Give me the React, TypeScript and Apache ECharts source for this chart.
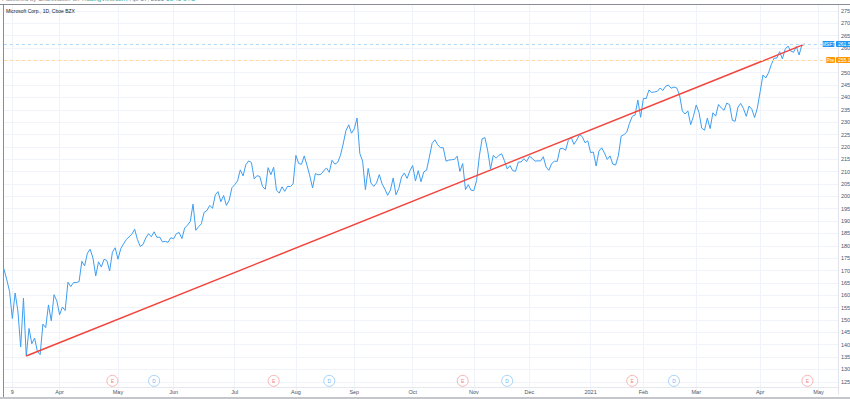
import React, { useEffect, useRef } from 'react';
import * as echarts from 'echarts';

// ---- Daily closes (Mar 4 2020 – Apr 26 2021) ----
const close2020Mar = [170.55, 166.27, 161.57, 150.62, 160.92, 153.63, 139.06, 158.83, 135.42, 146.57, 140.4, 142.71, 137.35, 135.98, 148.34, 146.92, 156.11, 149.7, 160.23, 157.71];
const close2020Apr = [152.11, 155.26, 153.83, 165.27, 163.49, 165.13, 165.14, 165.51, 173.7, 171.88, 177.04, 178.6, 175.06, 167.82, 173.52, 171.42, 174.55, 174.05, 169.81, 177.43, 179.21];
const close2020May = [174.57, 178.84, 180.76, 182.54, 183.6, 184.68, 186.74, 182.51, 179.75, 180.53, 183.16, 184.91, 183.63, 185.66, 183.43, 183.51, 181.57, 181.81, 181.4, 183.25];
const close2020Jun = [182.83, 184.91, 185.36, 182.92, 187.2, 188.36, 189.8, 196.84, 186.27, 187.74, 188.94, 193.57, 194.24, 196.32, 195.15, 200.57, 201.91, 197.84, 200.34, 196.33, 198.44, 203.51];
const close2020Jul = [204.7, 206.26, 210.7, 208.25, 212.83, 214.32, 213.67, 207.07, 208.35, 208.04, 203.92, 202.88, 211.6, 208.75, 211.75, 202.54, 201.3, 203.85, 202.02, 204.06, 203.9, 205.01];
const close2020Aug = [216.54, 213.29, 212.94, 216.35, 212.48, 208.25, 203.38, 209.19, 208.7, 208.9, 210.28, 211.49, 209.7, 214.58, 213.02, 213.69, 216.47, 221.15, 226.58, 228.91, 225.53];
const close2020Sep = [227.27, 231.65, 217.3, 214.25, 202.66, 211.29, 205.37, 204.03, 205.41, 208.78, 205.05, 202.91, 200.39, 202.54, 207.42, 200.59, 203.19, 207.82, 209.44, 207.26, 210.33];
const close2020Oct = [212.46, 206.19, 210.38, 205.91, 209.83, 210.58, 215.81, 221.4, 222.86, 220.86, 219.66, 219.66, 214.22, 214.65, 214.8, 214.89, 216.23, 210.08, 213.25, 202.68, 204.72, 202.47];
const close2020Nov = [202.33, 206.43, 216.39, 223.29, 223.72, 218.39, 211.01, 216.55, 215.44, 216.51, 217.23, 214.46, 211.08, 212.42, 210.39, 210.11, 213.86, 213.87, 215.23, 214.07];
const close2020Dec = [216.21, 215.37, 214.24, 214.36, 214.29, 216.01, 211.8, 210.52, 213.26, 214.2, 214.13, 219.28, 219.42, 218.59, 222.59, 223.94, 221.02, 222.75, 224.96, 224.15, 221.68, 222.42];
const close2021Jan = [217.69, 217.9, 212.25, 218.29, 219.62, 217.49, 214.93, 216.34, 213.02, 212.65, 216.44, 224.34, 224.97, 225.95, 229.53, 232.33, 232.9, 238.93, 231.96];
const close2021Feb = [239.65, 239.51, 243.0, 242.01, 242.2, 242.47, 243.77, 242.82, 244.49, 244.99, 243.7, 244.2, 243.79, 240.97, 234.51, 233.27, 234.55, 228.99, 232.38];
const close2021Mar = [236.94, 233.87, 227.56, 226.73, 231.6, 227.39, 233.78, 232.42, 237.13, 235.75, 234.81, 237.71, 237.04, 230.72, 230.35, 235.99, 237.58, 235.46, 232.34, 236.48, 235.24, 231.85, 235.77];
const close2021Apr = [242.35, 249.07, 247.86, 249.9, 253.25, 255.85, 255.91, 258.49, 255.59, 259.5, 260.74, 258.74, 258.26, 260.58, 257.17, 261.15, 261.55];

const closes = [
  ...close2020Mar, ...close2020Apr, ...close2020May, ...close2020Jun, ...close2020Jul, ...close2020Aug,
  ...close2020Sep, ...close2020Oct, ...close2020Nov, ...close2020Dec, ...close2021Jan, ...close2021Feb,
  ...close2021Mar, ...close2021Apr,
];

// ---- Calendar ----
const firstDate = '2020-03-04';
const futureBars = 12;
const marketHolidays = ['2020-04-10', '2020-05-25', '2020-07-03', '2020-09-07', '2020-11-26', '2020-12-25', '2021-01-01', '2021-01-18', '2021-02-15', '2021-04-02'];
const extraDayLabels = ['2020-03-09'];
const monthNames = ['Jan', 'Feb', 'Mar', 'Apr', 'May', 'Jun', 'Jul', 'Aug', 'Sep', 'Oct', 'Nov', 'Dec'];

// ---- Annotations ----
const lastPrice = 261.55;
const preMarketPrice = 255.1;
const trendStart = ['2020-03-16', 135.42];
const trendEnd = ['2021-04-26', 261.55];
const earningsDates = ['2020-04-29', '2020-07-22', '2020-10-27', '2021-01-26', '2021-04-27'];
const dividendDates = ['2020-05-20', '2020-08-19', '2020-11-18', '2021-02-17'];
const eventLevel = 125.4;
const hiddenPriceLabels = [255];

// ---- Axis ----
const yMin = 120;
const yMax = 277.5;
const yStep = 5;

function buildDates(start: string, count: number): string[] {
  const out: string[] = [];
  const d = new Date(start + 'T00:00:00Z');
  while (out.length < count) {
    const iso = d.toISOString().slice(0, 10);
    const wd = d.getUTCDay();
    if (wd !== 0 && wd !== 6 && !marketHolidays.includes(iso)) out.push(iso);
    d.setUTCDate(d.getUTCDate() + 1);
  }
  return out;
}

const dates = buildDates(firstDate, closes.length + futureBars);

const labelByIndex: Record<number, string> = {};
dates.forEach((dt, i) => {
  if (extraDayLabels.includes(dt)) {
    labelByIndex[i] = String(Number(dt.slice(8, 10)));
  } else if (i > 0 && dt.slice(5, 7) !== dates[i - 1].slice(5, 7)) {
    const m = Number(dt.slice(5, 7));
    labelByIndex[i] = m === 1 ? dt.slice(0, 4) : monthNames[m - 1];
  }
});

const FONT = 'Liberation Sans, Arial, sans-serif';
const GRID = { left: 4, right: 12, top: 4.65, bottom: 4.8, containLabel: false, outerBoundsMode: 'none' };

const option: any = {
  animation: false,
  backgroundColor: '#ffffff',
  grid: GRID,
  xAxis: {
    type: 'category',
    data: dates,
    boundaryGap: false,
    axisLine: { show: false },
    axisTick: { show: false, interval: (i: number) => i in labelByIndex },
    axisLabel: {
      interval: (i: number) => i in labelByIndex,
      formatter: (_v: string, i: number) => labelByIndex[i] ?? '',
      fontSize: 5.5,
      fontFamily: FONT,
      color: '#50535e',
      margin: -2.2,
      verticalAlign: 'middle',
    },
    splitLine: {
      show: true,
      interval: (i: number) => i in labelByIndex,
      lineStyle: { color: '#f0f3fa', width: 1 },
    },
  },
  yAxis: {
    type: 'value',
    position: 'right',
    min: yMin,
    max: yMax,
    interval: yStep,
    axisLine: { show: true, lineStyle: { color: '#e0e3eb', width: 1 } },
    axisTick: { show: false },
    axisLabel: {
      formatter: (v: number) => (hiddenPriceLabels.includes(v) ? '' : v.toFixed(2)),
      fontSize: 5.5,
      fontFamily: FONT,
      color: '#50535e',
      margin: 3,
      showMinLabel: false,
      showMaxLabel: false,
    },
    splitLine: {
      show: true,
      showMinLine: false,
      showMaxLine: false,
      lineStyle: { color: '#f0f3fa', width: 1 },
    },
  },
  series: [
    {
      name: 'MSFT',
      type: 'line',
      data: closes,
      symbol: 'none',
      lineStyle: { color: '#3d9ef2', width: 1 },
      z: 3,
      markLine: {
        silent: true,
        symbol: ['none', 'none'],
        label: { show: false },
        data: [
          { yAxis: lastPrice, lineStyle: { color: '#b3d9fa', width: 1, type: [3, 3] } },
          { yAxis: preMarketPrice, lineStyle: { color: '#ffd9a3', width: 1, type: [3, 3] } },
        ],
      },
    },
    {
      name: 'Trend',
      type: 'line',
      data: [trendStart, trendEnd],
      symbol: 'none',
      lineStyle: { color: '#f2453d', width: 1.5 },
      z: 4,
    },
    {
      name: 'Earnings',
      type: 'scatter',
      data: earningsDates.map((d) => [d, eventLevel]),
      symbol: 'circle',
      symbolSize: 11,
      itemStyle: { color: '#ffffff', borderColor: '#f5a3a3', borderWidth: 1 },
      label: { show: true, position: 'inside', formatter: 'E', fontSize: 5, fontFamily: FONT, color: '#ef5b5b' },
      z: 5,
    },
    {
      name: 'Dividends',
      type: 'scatter',
      data: dividendDates.map((d) => [d, eventLevel]),
      symbol: 'circle',
      symbolSize: 11,
      itemStyle: { color: '#ffffff', borderColor: '#90c8f8', borderWidth: 1 },
      label: { show: true, position: 'inside', formatter: 'D', fontSize: 5, fontFamily: FONT, color: '#3d9ef2' },
      z: 5,
    },
  ],
};

function buildGraphic(yLast: number, yPre: number) {
  const tag = (x: number, w: number, y: number, fill: string, text: string, align: string) => [
    { type: 'rect', z: 100, shape: { x, y: y - 3, width: w, height: 6, r: 1 }, style: { fill } },
    {
      type: 'text', z: 101,
      x: align === 'center' ? x + w / 2 : x + 2,
      y,
      style: { text, fill: '#ffffff', font: `5px ${FONT}`, textAlign: align, textVerticalAlign: 'middle', verticalAlign: 'middle' },
    },
  ];
  return [
    // top "published" strip (mostly cut off, as in the screenshot)
    {
      type: 'text', z: 100, x: 2, y: -1.5,
      style: {
        text: '{g|Published by ChartMaster on }{t|TradingView.com}{g|, Apr 27, 2021 }{t|13:41 UTC}',
        font: `6px ${FONT}`,
        verticalAlign: 'middle', textVerticalAlign: 'middle',
        rich: { g: { fill: '#7a7d86', fontSize: 6 }, t: { fill: '#26a69a', fontSize: 6 } },
      },
    },
    // frame
    { type: 'line', z: 90, shape: { x1: 0, y1: 4.5, x2: 850, y2: 4.5 }, style: { stroke: '#8a8d96', lineWidth: 1 } },
    { type: 'line', z: 90, shape: { x1: 3.5, y1: 4.5, x2: 3.5, y2: 397 }, style: { stroke: '#8a8d96', lineWidth: 1 } },
    { type: 'line', z: 90, shape: { x1: 4, y1: 387.5, x2: 838, y2: 387.5 }, style: { stroke: '#e6e8ee', lineWidth: 1 } },
    { type: 'rect', z: 90, shape: { x: 0, y: 397, width: 850, height: 2 }, style: { fill: '#c4c6cc' } },
    // title
    {
      type: 'text', z: 100, x: 6, y: 11,
      style: { text: 'Microsoft Corp., 1D, Cboe BZX', fill: '#131722', font: `5px ${FONT}`, verticalAlign: 'middle', textVerticalAlign: 'middle' },
    },
    // price tags
    ...tag(822.5, 12, yLast, '#2196f3', 'MSFT', 'center'),
    ...tag(836, 16, yLast, '#2196f3', lastPrice.toFixed(2), 'left'),
    ...tag(826, 9, yPre, '#ff9800', 'Pre', 'center'),
    ...tag(836, 16, yPre, '#ff9800', preMarketPrice.toFixed(2), 'left'),
  ];
}

export default function App() {
  const ref = useRef<HTMLDivElement>(null);
  useEffect(() => {
    if (!ref.current) return;
    const chart = echarts.init(ref.current, null, { renderer: 'svg' });
    chart.setOption(option);
    const yLast = chart.convertToPixel({ yAxisIndex: 0 }, lastPrice) as number;
    const yPre = chart.convertToPixel({ yAxisIndex: 0 }, preMarketPrice) as number;
    chart.setOption({ graphic: buildGraphic(yLast, yPre) });
    return () => chart.dispose();
  }, []);
  return (
    <div
      ref={ref}
      style={{ position: 'absolute', left: 0, top: 0, width: 850, height: 399, background: '#fff', overflow: 'hidden' }}
    />
  );
}
